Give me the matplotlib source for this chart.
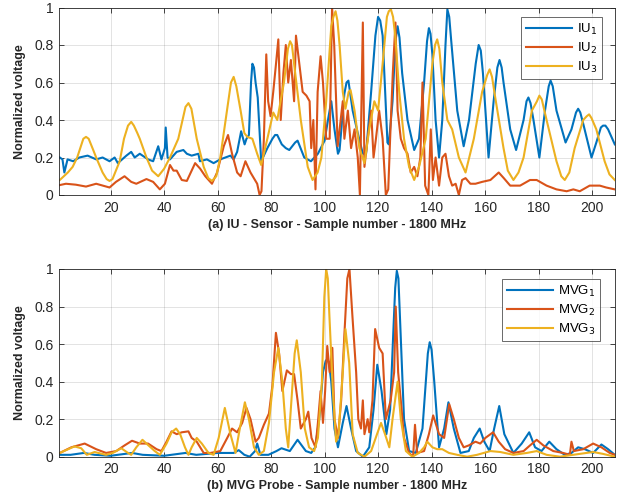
import numpy as np
import matplotlib
matplotlib.use('Agg')
import matplotlib.pyplot as plt

# --- MATLAB-ish colours ---
C_BLUE = '#0072BD'
C_RED = '#D95319'
C_YEL = '#EDB120'
C_AX = '#262626'

plt.rcParams['font.family'] = ['Liberation Sans', 'DejaVu Sans']

# --- (a) IU sensor ---
iu1_x = [1, 2, 2.7, 3.9, 6, 8.3, 11.4, 14.6, 17, 19.6, 21.5, 22.7, 25.9, 27.7, 29, 30.9, 34, 35.9, 37.8, 39,
         40.3, 40.6, 41.3, 42.2, 44.7, 47.2, 48.5, 50.3, 52.8, 53.4, 56, 58.5, 61, 62.9, 64.8, 66, 67.3, 68.8,
         70.1, 70.8, 71.7, 72.5, 73, 73.6, 74.2, 75, 76.3, 78.6, 80.5, 81.5, 82.3, 84, 85.5, 86.8, 89, 89.9,
         92.4, 94.9, 97.5, 100, 101.5, 102.5, 103.7, 105, 105.6, 107.4, 108.2, 108.9, 110.5, 112.4, 114.3,
         115.5, 117.4, 119, 120, 120.8, 121.7, 123.5, 124, 125.4, 126.5, 127.3, 128, 129, 131, 133.5, 135.3,
         137.2, 138.3, 139, 139.6, 140.3, 141.5, 142.8, 144, 145.2, 145.9, 146.6, 147.3, 149.6, 152, 154, 156.5,
         157.6, 158.4, 159.2, 161.3, 163.2, 164.6, 165.4, 166.2, 166.9, 169.4, 171.6, 174.4, 175.5, 176.2, 177,
         178.1, 180.3, 182.4, 183.8, 184.5, 185.3, 186.7, 190.1, 192.3, 194, 194.8, 195.6, 196.7, 199.8, 201.6,
         203.3, 204.1, 205, 206, 208.5]
iu1_y = [0.2, 0.19, 0.12, 0.19, 0.18, 0.2, 0.21, 0.19, 0.2, 0.18, 0.2, 0.17, 0.21, 0.23, 0.2, 0.22, 0.19, 0.18,
         0.26, 0.19, 0.25, 0.36, 0.2, 0.19, 0.23, 0.24, 0.22, 0.21, 0.22, 0.18, 0.19, 0.17, 0.19, 0.2, 0.21, 0.19,
         0.23, 0.34, 0.27, 0.3, 0.32, 0.6, 0.7, 0.68, 0.6, 0.52, 0.18, 0.25, 0.3, 0.32, 0.32, 0.27, 0.25, 0.24,
         0.28, 0.29, 0.2, 0.18, 0.22, 0.29, 0.42, 0.5, 0.35, 0.22, 0.24, 0.54, 0.6, 0.61, 0.45, 0.33, 0.22,
         0.22, 0.55, 0.85, 0.95, 0.93, 0.85, 0.28, 0.27, 0.5, 0.82, 0.9, 0.84, 0.65, 0.4, 0.24, 0.3,
         0.6, 0.82, 0.89, 0.86, 0.75, 0.4, 0.2, 0.4, 0.8, 0.99, 0.95, 0.83, 0.45, 0.26, 0.4, 0.7,
         0.8, 0.77, 0.65, 0.2, 0.5, 0.68, 0.72, 0.68, 0.6, 0.35, 0.24, 0.4, 0.5, 0.52, 0.49,
         0.4, 0.2, 0.45, 0.58, 0.61, 0.58, 0.45, 0.28, 0.35, 0.44, 0.46, 0.44, 0.38, 0.2, 0.28,
         0.36, 0.37, 0.37, 0.35, 0.27]

iu2_x = [1, 3.3, 7, 10.8, 14.6, 19.6, 22, 25.2, 27.7, 29.6, 33.4, 35.9, 38.4, 40.3, 42.2, 43.5, 44.7, 46.6, 48.5,
         51.6, 53.5, 55.4, 57.9, 59.8, 62.3, 63.9, 65.4, 67.3, 68.6, 70.4, 72.3, 74.8, 75.7, 76.4, 77.3, 78.2,
         78.9, 79.8, 80.8, 81.7, 82.7, 83.6, 84.6, 85.5, 86.4, 87.4, 88.6, 89.3, 90.3, 91.8, 93.2, 94.4, 95,
         95.8, 96.6, 97.4, 98.5, 99.4, 100.6, 101.9, 102.8, 103.6, 104.9, 106.8, 107.4, 108.7, 109.9, 111.2,
         112.4, 113.2, 114.3, 114.9, 116.1, 117.4, 118.3, 119.2, 120.4, 121.7, 122.9, 123.8, 124.5, 125.5, 126.5,
         127.3, 128.5, 129.7, 131, 132.2, 133.5, 134.7, 135.8, 136.6, 137.6, 138.8, 139.7, 140.5, 141.5, 142.8,
         144, 145.2, 146.5, 147.7, 149, 150.2, 151.4, 152.7, 154.5, 156.4, 158.9, 162, 165.1, 167, 169.4, 173.1,
         176.8, 179.3, 183, 186.7, 190.5, 193, 195.4, 199.1, 202.9, 205.3, 208.5]
iu2_y = [0.053, 0.06, 0.055, 0.045, 0.06, 0.04, 0.07, 0.1, 0.07, 0.06, 0.085, 0.07, 0.03, 0.06, 0.16, 0.13, 0.13,
         0.08, 0.075, 0.17, 0.14, 0.1, 0.06, 0.12, 0.26, 0.32, 0.22, 0.12, 0.1, 0.18, 0.12, 0.06, 0.0, 0.02, 0.3,
         0.75, 0.5, 0.42, 0.55, 0.68, 0.83, 0.4, 0.65, 0.8, 0.6, 0.72, 0.5, 0.85, 0.73, 0.55, 0.53, 0.5, 0.25,
         0.4, 0.03, 0.55, 0.74, 0.6, 0.3, 0.3, 1.0, 0.8, 0.26, 0.5, 0.3, 0.45, 0.25, 0.35, 0.2, 0.0, 0.92, 0.15,
         0.3, 0.45, 0.2, 0.3, 0.45, 0.3, 0.0, 0.03, 0.3, 0.65, 0.92, 0.45, 0.3, 0.25, 0.22, 0.12, 0.15, 0.1, 0.2,
         0.6, 0.05, 0.0, 0.35, 0.08, 0.2, 0.05, 0.2, 0.22, 0.1, 0.05, 0.06, 0.0, 0.08, 0.09, 0.06, 0.06, 0.07,
         0.08, 0.12, 0.09, 0.05, 0.05, 0.08, 0.08, 0.05, 0.03, 0.02, 0.03, 0.02, 0.05, 0.05, 0.04, 0.03]

iu3_x = [1, 4, 5.8, 7.5, 9.8, 10.8, 11.8, 13.5, 14.6, 17, 18.5, 19.6, 20.7, 23.4, 25, 26.5, 27.7, 28.7, 30, 30.9,
         33.4, 35.5, 37.8, 40, 42.2, 45.3, 48, 49.1, 50.2, 52.2, 54.8, 56.5, 57.9, 59.5, 61, 63.5, 65, 66, 67,
         68.6, 70, 71.1, 73, 74.8, 76.3, 78.6, 80.8, 82.3, 84.8, 86.3, 87.1, 87.8, 88.6, 91.1, 93.7, 95.5, 97.4,
         98.8, 100.6, 102.5, 103.3, 104.1, 104.8, 105.6, 106.8, 107.8, 109, 109.7, 111.2, 113, 114.9, 116.7,
         118.6, 120, 121.7, 123.3, 124, 124.8, 125.6, 126.4, 127.9, 129.7, 131.6, 133.5, 135.3, 137.8, 140.3,
         141.3, 142.1, 142.9, 144, 145.9, 147.7, 150.2, 152.7, 155.8, 158.9, 160.8, 161.7, 162.6, 163.8, 166.9,
         168.5, 170.6, 172.5, 174.4, 177.5, 179.4, 180.3, 181.2, 183, 186.7, 188.5, 189.8, 191.5, 193.5, 196.7,
         198, 198.9, 199.8, 201.6, 204.7, 206.5, 208.5]
iu3_y = [0.08, 0.12, 0.15, 0.2, 0.3, 0.31, 0.3, 0.24, 0.2, 0.12, 0.085, 0.075, 0.085, 0.18, 0.3, 0.37, 0.39,
         0.37, 0.33, 0.3, 0.2, 0.13, 0.1, 0.14, 0.2, 0.3, 0.47, 0.49, 0.46, 0.3, 0.15, 0.09, 0.075, 0.1, 0.2,
         0.45, 0.6, 0.63, 0.58, 0.45, 0.33, 0.31, 0.3, 0.22, 0.16, 0.3, 0.44, 0.4, 0.6, 0.78, 0.82, 0.8, 0.7,
         0.4, 0.15, 0.08, 0.12, 0.2, 0.5, 0.9, 0.95, 0.98, 0.93, 0.8, 0.55, 0.46, 0.55, 0.56, 0.45, 0.25, 0.17,
         0.35, 0.5, 0.45, 0.7, 0.95, 0.98, 0.99, 0.95, 0.85, 0.55, 0.3, 0.15, 0.08, 0.15, 0.3, 0.7, 0.8, 0.83,
         0.78, 0.6, 0.4, 0.35, 0.2, 0.12, 0.3, 0.55, 0.64, 0.67, 0.63, 0.52, 0.25, 0.13, 0.08, 0.12, 0.2, 0.45,
         0.5, 0.53, 0.51, 0.4, 0.18, 0.1, 0.08, 0.12, 0.25, 0.4, 0.42, 0.43, 0.41, 0.35, 0.18, 0.11, 0.08]

# --- (b) MVG probe ---
mvg1_x = [1, 5, 10, 14, 20, 28, 32, 40, 48, 52, 60, 64, 66, 67.9, 70, 72, 74, 74.8, 76, 79, 82, 83.9, 87, 89.9,
          93, 95, 96.5, 98, 99.4, 100.4, 101, 101.6, 102.5, 103.7, 105, 106.8, 108.2, 109.9, 111.8, 114.3, 116.7,
          118.3, 119.7, 121.3, 123.1, 124.5, 125.8, 126.4, 127, 127.6, 128.3, 129.7, 131.6, 134.1, 136.6, 138.6,
          139.3, 140, 141, 142.8, 144.7, 146.3, 148.3, 150.8, 153.9, 155.8, 158, 159.7, 161.7, 163.4, 165.3,
          167.2, 170.6, 173.7, 176.5, 178.7, 181.1, 184, 186.7, 189.8, 192.3, 194.8, 197.3, 200.4, 203.5, 206,
          208.5]
mvg1_y = [0.01, 0.01, 0.02, 0.01, 0.005, 0.02, 0.01, 0.005, 0.02, 0.01, 0.02, 0.02, 0.02, 0.035, 0.01, 0.0,
          0.03, 0.07, 0.01, 0.01, 0.03, 0.045, 0.03, 0.09, 0.03, 0.02, 0.05, 0.2, 0.45, 0.51, 0.52, 0.5, 0.4,
          0.15, 0.05, 0.18, 0.27, 0.15, 0.03, 0.0, 0.05, 0.25, 0.49, 0.35, 0.12, 0.25, 0.7, 0.9, 0.99, 0.95, 0.7,
          0.2, 0.03, 0.02, 0.15, 0.55, 0.61, 0.57, 0.4, 0.05, 0.15, 0.29, 0.15, 0.02, 0.03, 0.1, 0.15, 0.08,
          0.03, 0.15, 0.27, 0.12, 0.02, 0.07, 0.13, 0.05, 0.03, 0.08, 0.04, 0.01, 0.02, 0.05, 0.04, 0.02, 0.065,
          0.04, 0.01]

mvg2_x = [1, 5.3, 10.3, 14.6, 18.3, 22.1, 25.2, 28, 30.9, 34, 37.2, 39, 40.9, 42.8, 44.7, 46.6, 49.1, 50.3,
          52.2, 54.8, 57.3, 61, 63.6, 65.4, 67.3, 69.2, 70.8, 72.3, 74.2, 75.4, 77.3, 79.2, 80.5, 81.8, 83,
          84.2, 85.9, 87.4, 88.6, 89.9, 91.1, 93, 93.9, 95.1, 96.6, 97.5, 98.5, 99.4, 100.2, 101, 101.9, 102.9,
          103.7, 105, 106.2, 107.4, 108.5, 109.3, 110.4, 111.8, 112.6, 113.6, 114.3, 114.9, 116.1, 116.7,
          117.9, 118.9, 120.4, 121.7, 122.9, 123.8, 124.7, 126, 126.6, 127.5, 128.5, 129.7, 131.6, 133.1,
          133.8, 134.6, 137.2, 139, 140.6, 142.8, 144.7, 146.6, 148.3, 150.2, 152, 153.9, 156.4, 158.2, 160.1,
          163, 165.1, 167.5, 170.6, 174.4, 176.8, 179.3, 181.8, 185.5, 189.2, 191.7, 192.3, 193.2, 196.7,
          200.4, 203.5, 206.6, 208.5]
mvg2_y = [0.02, 0.05, 0.07, 0.04, 0.02, 0.03, 0.06, 0.085, 0.07, 0.07, 0.04, 0.03, 0.08, 0.135, 0.12, 0.13,
          0.135, 0.1, 0.08, 0.02, 0.02, 0.03, 0.1, 0.15, 0.13, 0.18, 0.26, 0.2, 0.08, 0.1, 0.17, 0.23, 0.38,
          0.66, 0.55, 0.35, 0.46, 0.44, 0.44, 0.3, 0.15, 0.2, 0.24, 0.1, 0.05, 0.18, 0.35, 0.18, 0.35, 0.59,
          0.45, 0.58, 0.2, 0.1, 0.3, 0.65, 0.95, 1.0, 0.75, 0.45, 0.2, 0.15, 0.3, 0.12, 0.2, 0.13, 0.3, 0.68,
          0.58, 0.55, 0.2, 0.25, 0.3, 0.45, 0.8, 0.45, 0.3, 0.1, 0.02, 0.0, 0.17, 0.02, 0.03, 0.12, 0.22, 0.12,
          0.1, 0.28, 0.2, 0.1, 0.05, 0.06, 0.08, 0.07, 0.1, 0.13, 0.08, 0.04, 0.02, 0.03, 0.06, 0.09, 0.06,
          0.03, 0.02, 0.01, 0.08, 0.03, 0.04, 0.07, 0.05, 0.02, 0.01]

mvg3_x = [1, 6.5, 9, 11.1, 14, 18.3, 20.8, 24, 26.5, 27.7, 29.6, 31.9, 33.4, 36.5, 38.4, 40.9, 42.8, 44.5, 46,
          47.8, 49.1, 50.3, 52.2, 54.1, 56.6, 58.5, 60.4, 62.7, 64.8, 66.7, 68.3, 70.2, 71.7, 73.6, 75.4, 77.3,
          79.2, 81.1, 82.7, 84.2, 85.5, 86.4, 87.6, 88.8, 89.6, 91.1, 92.6, 94.2, 96.1, 97.5, 99, 99.9, 100.6,
          101.2, 101.8, 103.1, 104.3, 105.2, 106.8, 107.8, 109.2, 110.5, 112.4, 114.9, 117.4, 119.6, 121.1,
          122.6, 124.2, 125.4, 127.3, 128.5, 130.4, 132.8, 135.3, 137.2, 138.4, 140.3, 142.1, 144, 146.5, 149.6,
          153.3, 157, 162, 165.7, 170.6, 175.6, 179.3, 183, 188, 192.9, 197.9, 200.4, 204.1, 208.5]
mvg3_y = [0.02, 0.055, 0.045, 0.01, 0.025, 0.01, 0.02, 0.045, 0.02, 0.01, 0.05, 0.09, 0.07, 0.03, 0.01, 0.07,
          0.13, 0.15, 0.12, 0.05, 0.01, 0.05, 0.1, 0.07, 0.02, 0.01, 0.1, 0.26, 0.12, 0.02, 0.15, 0.29, 0.2,
          0.05, 0.01, 0.03, 0.18, 0.45, 0.58, 0.4, 0.15, 0.05, 0.3, 0.55, 0.62, 0.45, 0.15, 0.05, 0.03, 0.1, 0.4,
          0.85, 1.0, 0.95, 0.75, 0.35, 0.08, 0.12, 0.45, 0.68, 0.5, 0.12, 0.02, 0.0, 0.03, 0.12, 0.18, 0.12,
          0.05, 0.2, 0.4, 0.2, 0.03, 0.0, 0.02, 0.05, 0.08, 0.05, 0.04, 0.04, 0.02, 0.01, 0.0, 0.01, 0.03, 0.025,
          0.01, 0.02, 0.03, 0.01, 0.0, 0.01, 0.02, 0.025, 0.015, 0.0]

x_ticks = [20, 40, 60, 80, 100, 120, 140, 160, 180, 200]
y_ticks = [0, 0.2, 0.4, 0.6, 0.8, 1]
y_ticklabels = ['0', '0.2', '0.4', '0.6', '0.8', '1']

fig = plt.figure(figsize=(6.21, 5.0), dpi=100, facecolor='white')
ax1 = fig.add_axes([0.095, 0.61, 0.895, 0.375])
ax2 = fig.add_axes([0.095, 0.0866, 0.895, 0.3754])


def style_axes(ax, xlabel):
    ax.set_xlim(0.7, 208.5)
    ax.set_ylim(0, 1)
    ax.set_xticks(x_ticks)
    ax.set_yticks(y_ticks)
    ax.set_yticklabels(y_ticklabels)
    ax.grid(True, color=C_AX, alpha=0.15, lw=0.6)
    ax.set_axisbelow(True)
    ax.tick_params(direction='in', length=3.5, width=0.6, colors=C_AX, labelsize=10,
                   top=True, right=True, pad=4)
    for sp in ax.spines.values():
        sp.set_color(C_AX)
        sp.set_linewidth(0.6)
    ax.set_xlabel(xlabel, fontsize=9, fontweight='bold', color=C_AX, labelpad=3)
    ax.set_ylabel('Normalized voltage', fontsize=9, fontweight='bold', color=C_AX, labelpad=6)


def add_legend(ax, anchor):
    # legend box pinned at its upper-right corner (axes coords)
    leg = ax.legend(loc='upper right', bbox_to_anchor=anchor, fontsize=9.5, frameon=True,
                    fancybox=False, edgecolor=C_AX, handlelength=3.5, handletextpad=0.35,
                    borderaxespad=0, labelspacing=0.3, borderpad=0.35)
    leg.get_frame().set_linewidth(0.6)
    return leg


ax1.plot(iu1_x, iu1_y, color=C_BLUE, lw=1.5, label='IU$_1$')
ax1.plot(iu2_x, iu2_y, color=C_RED, lw=1.5, label='IU$_2$')
ax1.plot(iu3_x, iu3_y, color=C_YEL, lw=1.5, label='IU$_3$')
style_axes(ax1, '(a) IU - Sensor - Sample number - 1800 MHz')
add_legend(ax1, (0.977, 0.95))

ax2.plot(mvg1_x, mvg1_y, color=C_BLUE, lw=1.5, label='MVG$_1$')
ax2.plot(mvg2_x, mvg2_y, color=C_RED, lw=1.5, label='MVG$_2$')
ax2.plot(mvg3_x, mvg3_y, color=C_YEL, lw=1.5, label='MVG$_3$')
style_axes(ax2, '(b) MVG Probe - Sample number - 1800 MHz')
add_legend(ax2, (0.973, 0.947))

fig.savefig('out.png', dpi=100)
